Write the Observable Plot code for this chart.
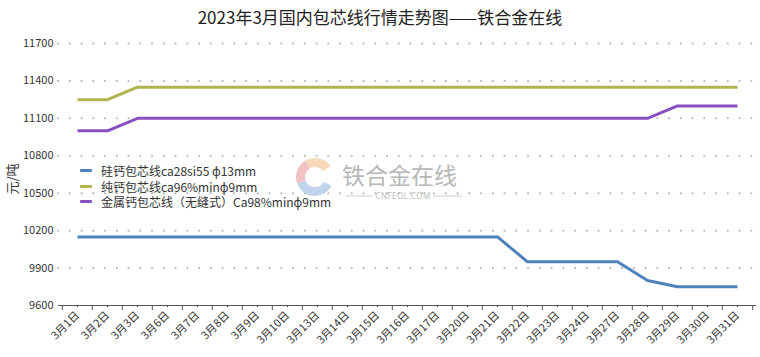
<!DOCTYPE html>
<html><head><meta charset="utf-8">
<script src="https://cdn.jsdelivr.net/npm/d3@7"></script>
<script src="https://cdn.jsdelivr.net/npm/@observablehq/plot@0.6"></script>
<style>
body{margin:0;background:#fff;font-family:"Noto Sans CJK SC","Noto Sans",sans-serif;}
#wrap{position:relative;width:760px;height:357px;overflow:hidden;}
#title{height:30px;text-align:center;font-size:17px;line-height:34px;color:#222;white-space:nowrap;}
#ylabel{position:absolute;left:-10px;top:172px;font-size:13px;color:#333;transform:rotate(-90deg);transform-origin:center;width:44px;text-align:center;line-height:14px;white-space:nowrap;}
#legend{position:absolute;left:80px;top:163px;font-size:12px;color:#333;}
#legend .row{height:15.5px;line-height:15.5px;white-space:nowrap;display:flex;align-items:center;}
#legend .sw{display:inline-block;width:12px;height:3px;border-radius:1px;margin-right:9px;}
#wm{position:absolute;left:0;top:0;pointer-events:none;}
</style></head><body>
<div id="wrap">
<div id="title">2023年3月国内包芯线行情走势图——铁合金在线</div>
<div id="chart"></div>
<div id="ylabel">元/吨</div>
<div id="legend"></div>
<svg id="wm" width="760" height="357"></svg>
</div>
<script>
const dates = ["3月1日","3月2日","3月3日","3月6日","3月7日","3月8日","3月9日","3月10日","3月13日","3月14日","3月15日","3月16日","3月17日","3月20日","3月21日","3月22日","3月23日","3月24日","3月27日","3月28日","3月29日","3月30日","3月31日"];
const siliconCalcium = [10150,10150,10150,10150,10150,10150,10150,10150,10150,10150,10150,10150,10150,10150,10150,9950,9950,9950,9950,9800,9750,9750,9750];
const pureCalcium = [11250,11250,11350,11350,11350,11350,11350,11350,11350,11350,11350,11350,11350,11350,11350,11350,11350,11350,11350,11350,11350,11350,11350];
const metalCalcium = [11000,11000,11100,11100,11100,11100,11100,11100,11100,11100,11100,11100,11100,11100,11100,11100,11100,11100,11100,11100,11200,11200,11200];
const seriesNames = ["硅钙包芯线ca28si55 ϕ13mm","纯钙包芯线ca96%minϕ9mm","金属钙包芯线（无缝式）Ca98%minϕ9mm"];
const seriesColors = ["#4f81bd","#b3b34f","#8a4fc0"];
const yTicks = [9600,9900,10200,10500,10800,11100,11400,11700];

const seriesValues = [siliconCalcium, pureCalcium, metalCalcium];
const rows = seriesValues.flatMap((vals, s) => vals.map((v, i) => ({date: dates[i], value: v, series: seriesNames[s]})));

const W = 760, H = 327, mL = 58, mR = 4, mT = 13, mB = 52;
const step = (W - mL - mR) / dates.length;

const chart = Plot.plot({
  width: W, height: H,
  marginLeft: mL, marginRight: mR, marginTop: mT, marginBottom: mB,
  style: {fontFamily: '"Noto Sans CJK SC","Noto Sans",sans-serif', fontSize: "11px", color: "#333", background: "#fff"},
  x: {type: "point", domain: dates, padding: 0.5, tickSize: 2, tickRotate: -45, tickPadding: 6, label: null},
  y: {domain: [9600, 11700], ticks: yTicks, tickSize: 0, tickPadding: 5, tickFormat: d => String(d), label: null},
  color: {domain: seriesNames, range: seriesColors},
  marks: [
    Plot.ruleY(yTicks.slice(1), {y: d => d, stroke: "#b4b4b4", strokeWidth: 2, strokeDasharray: "0.1,11.65", strokeLinecap: "round"}),
    Plot.ruleY([yTicks[0]], {y: d => d, stroke: "#555", strokeWidth: 1}),
    Plot.ruleX(dates, {x: d => d, dx: -step / 2, y1: yTicks[0], y2: yTicks[0], insetBottom: -5, stroke: "#555"}),
    Plot.ruleX(dates.slice(-1), {x: d => d, dx: step / 2, y1: yTicks[0], y2: yTicks[0], insetBottom: -5, stroke: "#555"}),
    Plot.line(rows, {x: "date", y: "value", z: "series", stroke: "series", strokeWidth: 3, strokeLinejoin: "round", strokeLinecap: "butt"})
  ]
});
document.getElementById("chart").appendChild(chart);

const lg = d3.select("#legend");
seriesNames.forEach((n, i) => {
  const r = lg.append("div").attr("class", "row");
  r.append("span").attr("class", "sw").style("background", seriesColors[i]);
  r.append("span").text(n);
});

// watermark
const wm = d3.select("#wm").append("g").attr("opacity", 0.85);
const arc = d3.arc().innerRadius(10).outerRadius(19);
const cx = 315, cy = 177;
[[330, 415, "#f6d3ad"], [250, 330, "#f1b9b9"], [118, 250, "#b7cdea"]].forEach(([a0, a1, c]) => {
  wm.append("path").attr("transform", `translate(${cx},${cy})`)
    .attr("d", arc({startAngle: a0 * Math.PI / 180, endAngle: a1 * Math.PI / 180})).attr("fill", c);
});
wm.append("text").attr("x", 342).attr("y", 184).attr("font-size", 23).attr("fill", "#ababab")
  .attr("font-family", '"Noto Sans CJK SC",sans-serif').text("铁合金在线");
wm.append("text").attr("x", 403).attr("y", 199).attr("text-anchor", "middle").attr("font-size", 8).attr("fill", "#b0b0b0")
  .attr("font-family", '"Noto Sans",sans-serif').attr("letter-spacing", 0.5).text("CNFEOL.COM");
wm.append("line").attr("x1", 346).attr("x2", 373).attr("y1", 196).attr("y2", 196).attr("stroke", "#c4c4c4");
wm.append("line").attr("x1", 433).attr("x2", 462).attr("y1", 196).attr("y2", 196).attr("stroke", "#c4c4c4");
</script>
</body></html>
